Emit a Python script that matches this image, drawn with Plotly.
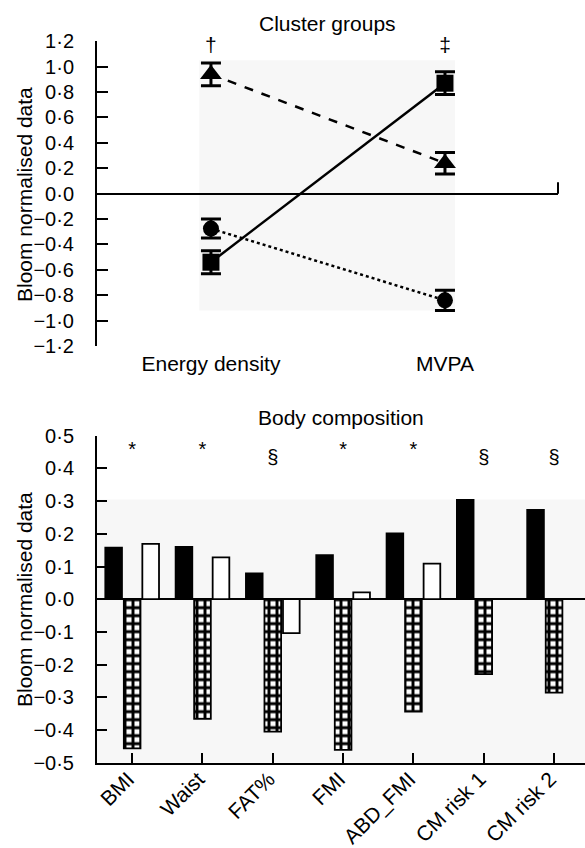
import plotly.graph_objects as go

# ---------------- top panel: cluster groups ----------------
cluster_x = ["Energy density", "MVPA"]
tri_vals = [0.94, 0.24]
tri_err = [0.09, 0.085]
sq_vals = [-0.54, 0.87]
sq_err = [0.09, 0.09]
circ_vals = [-0.275, -0.84]
circ_err = [0.075, 0.08]
top_sig = ["†", "‡"]

top_ticks = [1.2, 1.0, 0.8, 0.6, 0.4, 0.2, 0.0, -0.2, -0.4, -0.6, -0.8, -1.0, -1.2]
top_ticktext = ["1·2", "1·0", "0·8", "0·6", "0·4", "0·2", "0·0",
                "−0·2", "−0·4", "−0·6", "−0·8", "−1·0", "−1·2"]

# ---------------- bottom panel: body composition ----------------
body_cats = ["BMI", "Waist", "FAT%", "FMI", "ABD_FMI", "CM risk 1", "CM risk 2"]
black_vals = [0.158, 0.160, 0.079, 0.135, 0.201, 0.304, 0.273]
check_vals = [-0.456, -0.366, -0.405, -0.461, -0.344, -0.229, -0.286]
white_vals = [0.169, 0.128, -0.104, 0.021, 0.109, 0.0, 0.0]
body_sig = ["*", "*", "§", "*", "*", "§", "§"]

bot_ticks = [0.5, 0.4, 0.3, 0.2, 0.1, 0.0, -0.1, -0.2, -0.3, -0.4, -0.5]
bot_ticktext = ["0·5", "0·4", "0·3", "0·2", "0·1", "0·0",
                "−0·1", "−0·2", "−0·3", "−0·4", "−0·5"]

W, H = 585, 848
FONT = "Liberation Sans, Arial, Helvetica, sans-serif"
FS = 20

fig = go.Figure()

line_styles = [
    (tri_vals, tri_err, "triangle-up", "dash", 19),
    (sq_vals, sq_err, "square", "solid", 17),
    (circ_vals, circ_err, "circle", "dot", 16),
]
for vals, errs, sym, dash, msize in line_styles:
    fig.add_trace(go.Scatter(
        x=cluster_x, y=vals, mode="lines+markers",
        line=dict(color="black", width=2.5, dash=dash),
        marker=dict(symbol=sym, size=msize, color="black"),
        error_y=dict(type="data", array=errs, visible=True, color="black",
                     thickness=3, width=10),
        xaxis="x", yaxis="y", showlegend=False, cliponaxis=False,
    ))

fig.add_trace(go.Scatter(
    x=cluster_x, y=[1.16] * len(cluster_x), mode="text", text=top_sig,
    textfont=dict(family=FONT, size=21, color="black"),
    xaxis="x", yaxis="y", showlegend=False, cliponaxis=False,
))

# bars
fig.add_trace(go.Bar(
    x=body_cats, y=black_vals, marker=dict(color="black", line=dict(color="black", width=1.8)),
    xaxis="x2", yaxis="y2", showlegend=False,
))
fig.add_trace(go.Bar(
    x=body_cats, y=check_vals,
    marker=dict(color="white", line=dict(color="black", width=1.8),
                pattern=dict(shape="+", fgcolor="black", bgcolor="white",
                             size=8, solidity=0.6, fillmode="replace")),
    xaxis="x2", yaxis="y2", showlegend=False,
))
fig.add_trace(go.Bar(
    x=body_cats, y=white_vals, marker=dict(color="white", line=dict(color="black", width=1.8)),
    xaxis="x2", yaxis="y2", showlegend=False,
))
fig.add_trace(go.Scatter(
    x=body_cats, y=[0.452 if s == "*" else 0.428 for s in body_sig], mode="text", text=body_sig,
    textfont=dict(family=FONT, size=20, color="black"),
    xaxis="x2", yaxis="y2", showlegend=False, cliponaxis=False,
))

# domains in paper coordinates (derived from pixel layout)
x_left = 97 / W
top_dom = [1 - 346 / H, 1 - 41.3 / H]
bot_dom = [1 - 762.7 / H, 1 - 435.7 / H]

axis_common = dict(showgrid=False, linecolor="black", linewidth=2, automargin=False)

fig.update_layout(
    width=W, height=H,
    margin=dict(l=0, r=0, t=0, b=0, pad=0, autoexpand=False),
    paper_bgcolor="white", plot_bgcolor="rgba(0,0,0,0)",
    font=dict(family=FONT, size=FS, color="black"),
    barmode="group", bargap=0.21, bargroupgap=0.1,
    xaxis=dict(domain=[x_left, 558 / W], range=[-0.487, 1.483], showline=False,
               ticks="", zeroline=False, showgrid=False, ticklabelstandoff=3, automargin=False,
               tickfont=dict(family=FONT, size=21, color="black"), anchor="y"),
    yaxis=dict(domain=top_dom, range=[-1.2, 1.2], tickvals=top_ticks, ticktext=top_ticktext,
               showline=True, ticks="inside", ticklen=11, tickwidth=2, tickcolor="black",
               zeroline=True, zerolinecolor="black", zerolinewidth=2,
               tickfont=dict(family=FONT, size=FS, color="black"),
               ticklabelstandoff=17, anchor="x", **axis_common),
    xaxis2=dict(domain=[x_left, 1], range=[-0.5, 6.44], showline=True, ticks="inside",
                ticklen=10, tickwidth=2, tickcolor="black", tickangle=-45, zeroline=False,
                tickfont=dict(family=FONT, size=21, color="black"),
                ticklabelstandoff=-6, ticklabelshift=-4, anchor="y2", **axis_common),
    yaxis2=dict(domain=bot_dom, range=[-0.5, 0.5], tickvals=bot_ticks, ticktext=bot_ticktext,
                showline=True, ticks="inside", ticklen=10, tickwidth=2, tickcolor="black",
                zeroline=True, zerolinecolor="black", zerolinewidth=2,
                tickfont=dict(family=FONT, size=FS, color="black"),
                ticklabelstandoff=17, anchor="x2", **axis_common),
)

# light shaded backgrounds and the small end tick on the top zero line
fig.add_shape(type="rect", xref="x", yref="y", x0=-0.05, x1=1.043, y0=-0.92, y1=1.05,
              fillcolor="#f7f7f7", line=dict(width=0), layer="below")
fig.add_shape(type="rect", xref="x2 domain", yref="y2", x0=0, x1=1, y0=-0.5, y1=0.305,
              fillcolor="#f7f7f7", line=dict(width=0), layer="below")
fig.add_shape(type="line", xref="x domain", yref="y", x0=1, x1=1, y0=0, y1=0.09,
              line=dict(color="black", width=2))

# titles
fig.add_annotation(text="Cluster groups", xref="paper", yref="paper",
                   x=327 / W, y=1 - 24 / H, showarrow=False,
                   xanchor="center", yanchor="middle",
                   font=dict(family=FONT, size=21, color="black"))
fig.add_annotation(text="Body composition", xref="paper", yref="paper",
                   x=341 / W, y=1 - 417 / H, showarrow=False,
                   xanchor="center", yanchor="middle",
                   font=dict(family=FONT, size=21, color="black"))
for yc in (195, 600):
    fig.add_annotation(text="Bloom normalised data", xref="paper", yref="paper",
                       x=24 / W, y=1 - yc / H, textangle=-90, showarrow=False,
                       xanchor="center", yanchor="middle",
                       font=dict(family=FONT, size=21, color="black"))

fig.write_html("out.html", config={"displayModeBar": False},
               post_script="document.body.style.margin='0';document.body.style.overflow='hidden';")
